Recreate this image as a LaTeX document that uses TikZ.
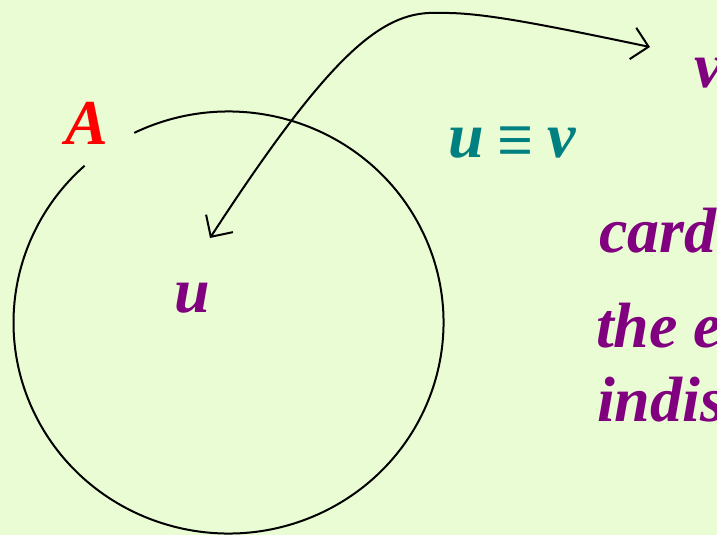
\documentclass[tikz,border=0pt]{standalone}
\usepackage{fontspec}
\setmainfont{Liberation Serif}
\usetikzlibrary{arrows.meta}
\definecolor{Paper}{HTML}{E9FCD3}
\definecolor{SetPurple}{HTML}{800080}
\definecolor{EqTeal}{HTML}{008080}
\begin{document}
\begin{tikzpicture}[x=1pt,y=-1pt,line width=2pt,>={Straight Barb[length=16pt,width=32pt]},
  lbl/.style={anchor=base west,inner sep=0pt,font=\fontsize{64}{64}\selectfont\bfseries\itshape}]
\fill[Paper] (0,0) rectangle (717,535);
\useasboundingbox (0,0) rectangle (717,535);
\coordinate (ctr) at (228.5,322.5);
\draw (ctr) ++(244:215 and 211) arc[start angle=244,end angle=588,x radius=215,y radius=211];
\node[lbl,red] (setA) at (64,144) {A};
\node[lbl,SetPurple] (uin) at (173,312) {u};
\node[lbl,EqTeal] (equiv) at (447,157) {u\hspace{14pt}{\normalfont\fontsize{58}{58}\selectfont\raisebox{-10pt}{\scalebox{1.1}[1.4]{≡}}}\hspace{14pt}v};
\node[lbl,SetPurple] (vout) at (693,88) {v};
\node[lbl,SetPurple] (card) at (598,252) {card};
\node[lbl,SetPurple] (the) at (595,347) {the e};
\node[lbl,SetPurple] (indis) at (596,421) {indis};
\coordinate (vend) at (650,47);
\coordinate (uend) at (210,238);
\draw[<->] (vend) .. controls (540,24) and (480,12) .. (440,13) .. controls (385,10) and (335,46) .. (uend);
\end{tikzpicture}
\end{document}
